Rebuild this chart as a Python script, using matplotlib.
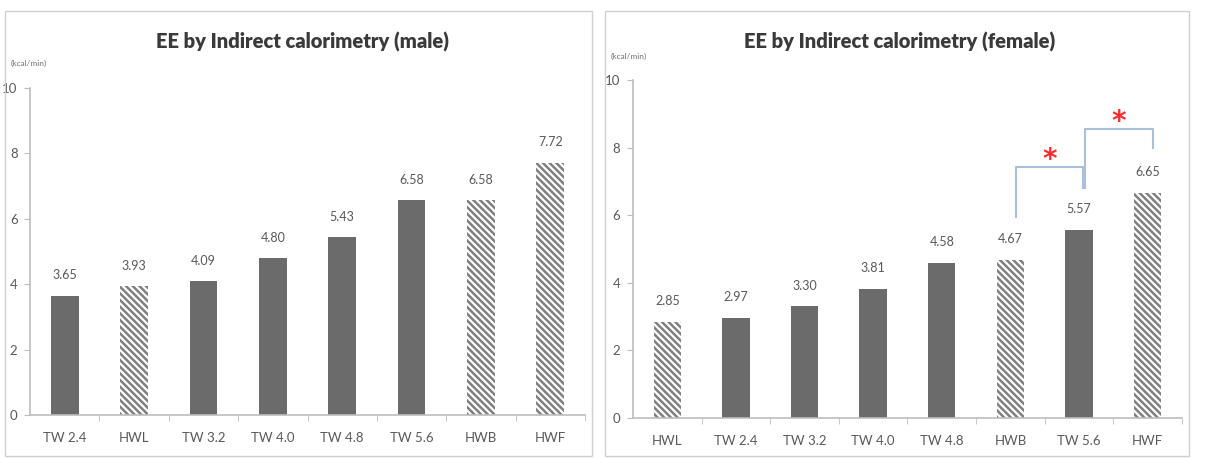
import matplotlib
matplotlib.use("Agg")
import matplotlib.pyplot as plt
from matplotlib.patches import Rectangle

plt.rcParams["font.family"] = ["Lato", "DejaVu Sans"]
plt.rcParams["hatch.linewidth"] = 1.8

# male panel
male_labels = ["TW 2.4", "HWL", "TW 3.2", "TW 4.0", "TW 4.8", "TW 5.6", "HWB", "HWF"]
male_values = [3.65, 3.93, 4.09, 4.80, 5.43, 6.58, 6.58, 7.72]
male_hatched = [False, True, False, False, False, False, True, True]

# female panel
female_labels = ["HWL", "TW 2.4", "TW 3.2", "TW 4.0", "TW 4.8", "HWB", "TW 5.6", "HWF"]
female_values = [2.85, 2.97, 3.30, 3.81, 4.58, 4.67, 5.57, 6.65]
female_hatched = [True, False, False, False, False, True, False, True]

# significance brackets (female): x from, x to, height, left foot, right foot
brackets = [
    (5.08, 6.06, 7.43, 5.95, 6.80),
    (6.09, 7.08, 8.55, 6.80, 7.99),
]

SOLID = "#6b6b6b"
HATCH = "#808080"
AXIS = "#bdbdbd"
TEXT = "#595959"
BRACKET = "#a9bfdc"

fig = plt.figure(figsize=(12.11, 4.58), dpi=100)

# panel frames
for x0, w in [(0.0041, 0.4847), (0.4996, 0.4822)]:
    fig.patches.append(Rectangle((x0, 0.0044), w, 0.9716, transform=fig.transFigure,
                                 fill=False, edgecolor="#d0d0d0", linewidth=1.0))


def draw_panel(ax, labels, values, hatched, title, title_x, unit_xy):
    xs = range(len(labels))
    for x, v, h in zip(xs, values, hatched):
        if h:
            ax.bar(x, v, width=0.4, color="white", edgecolor=HATCH,
                   hatch="\\\\\\\\\\", linewidth=0)
        else:
            ax.bar(x, v, width=0.4, color=SOLID, linewidth=0)
        ax.text(x, v + 0.62, f"{v:.2f}", ha="center", va="center", fontsize=9,
                color=TEXT)
    ax.set_xlim(-0.5, len(labels) - 0.5)
    ax.set_ylim(0, 10)
    ax.set_yticks([0, 2, 4, 6, 8, 10])
    ax.set_xticks(list(xs))
    ax.set_xticklabels(labels, fontsize=9.5, color=TEXT)
    ax.set_xticks([i + 0.5 for i in range(len(labels))], minor=True)
    ax.tick_params(axis="x", which="major", length=0, pad=12)
    ax.tick_params(axis="x", which="minor", length=4, color=AXIS, direction="out")
    ax.tick_params(axis="y", length=4, color=AXIS, labelsize=9.5, labelcolor=TEXT,
                   pad=5)
    for s in ["top", "right"]:
        ax.spines[s].set_visible(False)
    for s in ["left", "bottom"]:
        ax.spines[s].set_color(AXIS)
        ax.spines[s].set_linewidth(1.2)
    fig.text(title_x, 0.908, title, ha="center", va="center", fontsize=14.5,
             fontweight="heavy", color="#3a3a3a")
    fig.text(unit_xy[0], unit_xy[1], "(kcal/min)", ha="center", va="center",
             fontsize=6, color="#707070")


ax1 = fig.add_axes([0.0248, 0.0939, 0.4583, 0.714])
draw_panel(ax1, male_labels, male_values, male_hatched,
           "EE by Indirect calorimetry (male)", 0.2494, (0.024, 0.862))

ax2 = fig.add_axes([0.5227, 0.0873, 0.4533, 0.738])
draw_panel(ax2, female_labels, female_values, female_hatched,
           "EE by Indirect calorimetry (female)", 0.743, (0.519, 0.876))

for xa, xb, yt, ya, yb in brackets:
    ax2.plot([xa, xa, xb, xb], [ya, yt, yt, yb], color=BRACKET, linewidth=1.5,
             clip_on=False)
    ax2.text((xa + xb) / 2, yt + 0.2, "*", ha="center", va="center", fontsize=20,
             fontweight="bold", color="#ff2a2a", family="DejaVu Sans")

fig.savefig("out.png", dpi=100)
